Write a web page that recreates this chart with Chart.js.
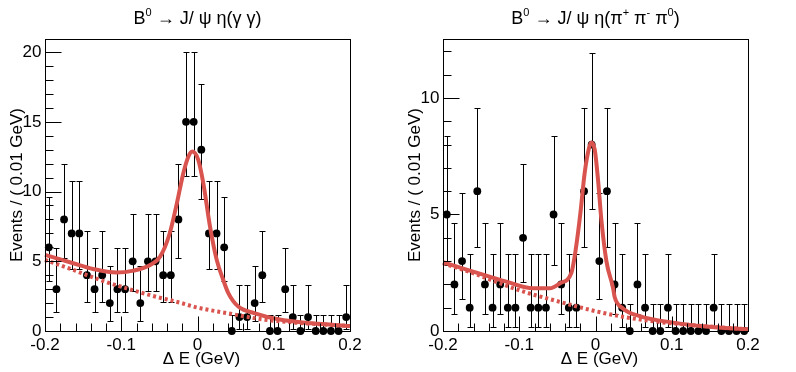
<!DOCTYPE html>
<html><head><meta charset="utf-8">
<script src="https://cdn.jsdelivr.net/npm/chart.js@4.4.1/dist/chart.umd.min.js"></script>
<style>
html,body{margin:0;padding:0;background:#fff;}
#wrap{position:relative;width:796px;height:372px;background:#fff;}
.pane{position:absolute;top:0;width:398px;height:372px;}
canvas{display:block;}
</style></head>
<body><div id="wrap">
<div class="pane" style="left:0"><canvas id="c1" width="398" height="372"></canvas></div>
<div class="pane" style="left:398px"><canvas id="c2" width="398" height="372"></canvas></div>
</div>
<script>
// ---- data ----
const binCenters = [-0.195,-0.185,-0.175,-0.165,-0.155,-0.145,-0.135,-0.125,-0.115,-0.105,
  -0.095,-0.085,-0.075,-0.065,-0.055,-0.045,-0.035,-0.025,-0.015,-0.005,
  0.005,0.015,0.025,0.035,0.045,0.055,0.065,0.075,0.085,0.095,
  0.105,0.115,0.125,0.135,0.145,0.155,0.165,0.175,0.185,0.195];

const titleGG = 'B⁰ → J/ ψ η(γ γ)';
const titlePPP = 'B⁰ → J/ ψ η(π⁺ π⁻ π⁰)';
const xTitle = 'Δ E (GeV)';
const yTitle = 'Events / ( 0.01 GeV)';

const xTicks = [-0.2,-0.1,0,0.1,0.2];
const xTickLabels = ['-0.2','-0.1','0','0.1','0.2'];
const yTicksGG = [0,5,10,15,20];
const yTickLabelsGG = ['0','5','10','15','20'];
const yTicksPPP = [0,5,10];
const yTickLabelsPPP = ['0','5','10'];

// eta -> gamma gamma
const countsGG = [6,3,8,7,7,4,3,4,2,3,3,5,2,5,5,4,4,8,15,15,13,7,7,6,0,1,1,2,4,0,0,3,1,0,1,0,0,0,0,1];
const lowGG  = [3.62,1.37,5.23,4.42,4.42,2.09,1.37,2.09,0.71,1.37,1.37,2.84,0.71,2.84,2.84,2.09,2.09,5.23,11.15,11.15,
  9.44,4.42,4.42,3.62,0,0.17,0.17,0.71,2.09,0,0,1.37,0.17,0,0.17,0,0,0,0,0.17];
const highGG = [9.58,5.92,11.95,10.77,10.77,7.16,5.92,7.16,4.64,5.92,5.92,8.38,4.64,8.38,8.38,7.16,7.16,11.95,19.99,19.99,
  17.70,10.77,10.77,9.58,1.15,3.30,3.30,4.64,7.16,1.15,1.15,5.92,3.30,1.15,3.30,1.15,1.15,1.15,1.15,3.30];
const totalGGx = [-0.2,-0.163,-0.137,-0.106,-0.084,-0.062,-0.049,-0.037,-0.027,-0.0186,-0.012,-0.0068,0.001,0.0076,0.0164,0.0252,0.0338,0.0404,0.0535,0.0754,0.106,0.15,0.2];
const totalGGy = [5.46,4.86,4.45,4.19,4.33,4.74,5.33,6.9,9.17,11.32,12.5,12.87,12.27,10.6,7.49,5.1,3.66,2.72,1.75,1.27,0.84,0.55,0.36];
const bkgGGx = [-0.2,-0.163,-0.128,-0.093,-0.058,-0.023,0.0,0.04,0.084,0.128,0.2];
const bkgGGy = [5.1,4.38,3.66,3.06,2.51,2.03,1.68,1.27,0.84,0.6,0.36];

// eta -> pi+ pi- pi0
const countsPPP = [5,2,3,1,6,2,1,2,1,1,4,1,1,1,5,2,1,1,6,8,3,6,2,1,0,2,1,0,0,1,0,0,0,0,0,1,0,0,0,0];
const lowPPP  = [2.84,0.71,1.37,0.17,3.62,0.71,0.17,0.71,0.17,0.17,2.09,0.17,0.17,0.17,2.84,0.71,0.17,0.17,3.62,5.23,
  1.37,3.62,0.71,0.17,0,0.71,0.17,0,0,0.17,0,0,0,0,0,0.17,0,0,0,0];
const highPPP = [8.38,4.64,5.92,3.30,9.58,4.64,3.30,4.64,3.30,3.30,7.16,3.30,3.30,3.30,8.38,4.64,3.30,3.30,9.58,11.95,
  5.92,9.58,4.64,3.30,1.15,4.64,3.30,1.15,1.15,3.30,1.15,1.15,1.15,1.15,1.15,3.30,1.15,1.15,1.15,1.15];
const totalPPPx = [-0.2,-0.1606,-0.1169,-0.082,-0.060,-0.046,-0.0316,-0.026,-0.0198,-0.0142,-0.0085,-0.0054,-0.001,0.0033,0.0077,0.0143,0.023,0.0252,0.036,0.058,0.1016,0.1454,0.2];
const totalPPPy = [2.95,2.55,2.12,1.83,1.83,2.06,2.5,3.48,5.06,6.78,7.85,8.09,7.78,6.49,4.77,3.0,1.85,1.45,0.97,0.64,0.36,0.19,0.07];
const bkgPPPx = [-0.2,-0.1606,-0.1256,-0.0906,-0.0557,-0.0207,0.0,0.036,0.0799,0.1236,0.2];
const bkgPPPy = [2.91,2.48,2.05,1.65,1.33,1.02,0.85,0.61,0.4,0.26,0.07];

// ---- drawing ----
const RED = 'rgb(217,84,78)';
const FONT = '"Liberation Sans", Arial, Helvetica, sans-serif';

function drawRich(ctx, str, cx, baseY, size){
  const supMap = {'⁰':'0','⁺':'+','⁻':'-'};
  const segs = [];
  for (const ch of str){
    const sup = ch in supMap; const t = sup ? supMap[ch] : ch;
    if (segs.length && segs[segs.length-1].sup === sup) segs[segs.length-1].t += t;
    else segs.push({t, sup});
  }
  const fN = size + 'px ' + FONT, fS = Math.round(size*0.62) + 'px ' + FONT;
  let w = 0;
  segs.forEach(s => { ctx.font = s.sup ? fS : fN; s.w = ctx.measureText(s.t).width; w += s.w; });
  let xx = cx - w/2;
  ctx.textAlign = 'left'; ctx.textBaseline = 'alphabetic';
  segs.forEach(s => { ctx.font = s.sup ? fS : fN; ctx.fillText(s.t, xx, s.sup ? baseY - size*0.45 : baseY); xx += s.w; });
}

function makePlugin(p){
  return {
    id: 'rootFrame',
    beforeDatasetsDraw(chart){
      const ctx = chart.ctx, x = chart.scales.x, y = chart.scales.y;
      ctx.save(); ctx.strokeStyle = '#000'; ctx.lineWidth = 1;
      binCenters.forEach((c, i) => {
        const px = Math.round(x.getPixelForValue(c)) + 0.5;
        const y1 = Math.round(y.getPixelForValue(p.lo[i])) + 0.5;
        const y2 = Math.round(y.getPixelForValue(p.hi[i])) + 0.5;
        ctx.beginPath();
        ctx.moveTo(px, y1); ctx.lineTo(px, y2);
        ctx.moveTo(px-3, y1); ctx.lineTo(px+3, y1);
        ctx.moveTo(px-3, y2); ctx.lineTo(px+3, y2);
        ctx.stroke();
      });
      ctx.restore();
    },
    afterDraw(chart){
      const ctx = chart.ctx, x = chart.scales.x, y = chart.scales.y, a = chart.chartArea;
      ctx.save();
      ctx.strokeStyle = '#000'; ctx.lineWidth = 1; ctx.fillStyle = '#000';
      const L = Math.round(a.left)+0.5, R = Math.round(a.right)+0.5, T = Math.round(a.top)+0.5, B = Math.round(a.bottom)+0.5;
      ctx.strokeRect(L, T, R-L, B-T);
      ctx.beginPath();
      // x ticks
      for (let k = 0; k <= 20; k++){
        const v = -0.2 + k*0.02;
        const px = Math.round(x.getPixelForValue(v)) + 0.5;
        const len = (k % 5 === 0) ? 15 : 8;
        ctx.moveTo(px, B); ctx.lineTo(px, B - len);
      }
      // y ticks
      for (let v = 0; v <= p.ymax; v += 1){
        const py = Math.round(y.getPixelForValue(v)) + 0.5;
        const len = (v % 5 === 0) ? 16 : 8;
        ctx.moveTo(L, py); ctx.lineTo(L + len, py);
      }
      ctx.stroke();
      // labels
      ctx.font = '17px ' + FONT;
      ctx.textAlign = 'center'; ctx.textBaseline = 'alphabetic';
      xTicks.forEach((v, i) => ctx.fillText(xTickLabels[i], x.getPixelForValue(v), 350));
      ctx.textAlign = 'right'; ctx.textBaseline = 'middle';
      p.yTicks.forEach((v, i) => ctx.fillText(p.yLabels[i], L - 4, y.getPixelForValue(v)));
      // axis titles
      ctx.textAlign = 'center'; ctx.textBaseline = 'alphabetic';
      ctx.fillText(xTitle, (a.left + a.right)/2 + 4, 364);
      ctx.save();
      ctx.translate(22, (a.top + a.bottom)/2);
      ctx.rotate(-Math.PI/2);
      ctx.fillText(yTitle, 0, 0);
      ctx.restore();
      // title
      drawRich(ctx, p.title, (a.left + a.right)/2, 24, 18);
      ctx.restore();
    }
  };
}

function build(id, p){
  const pts = binCenters.map((c, i) => ({x: c, y: p.counts[i]}));
  const tot = p.tx.map((v, i) => ({x: v, y: p.ty[i]}));
  const bkg = p.bx.map((v, i) => ({x: v, y: p.by[i]}));
  new Chart(document.getElementById(id), {
    type: 'scatter',
    data: { datasets: [
      { data: tot, showLine: true, borderColor: RED, borderWidth: 4, pointRadius: 0, cubicInterpolationMode: 'monotone', order: 0, clip: false },
      { data: bkg, showLine: true, borderColor: RED, borderWidth: 4, borderDash: [3,3], pointRadius: 0, cubicInterpolationMode: 'monotone', order: 1, clip: false },
      { data: pts, showLine: false, pointRadius: 3.9, pointBackgroundColor: '#000', pointBorderColor: '#000', pointBorderWidth: 0, order: 2, clip: false }
    ]},
    options: {
      responsive: false, animation: false, devicePixelRatio: 1,
      layout: { padding: { left: 45, right: 48, top: 39, bottom: 41 } },
      plugins: { legend: { display: false }, tooltip: { enabled: false } },
      events: [],
      scales: {
        x: { type: 'linear', min: -0.2, max: 0.2, display: false },
        y: { type: 'linear', min: 0, max: p.ymax, display: false }
      }
    },
    plugins: [makePlugin(p)]
  });
}

build('c1', { counts: countsGG, lo: lowGG, hi: highGG, tx: totalGGx, ty: totalGGy, bx: bkgGGx, by: bkgGGy,
  ymax: 20.94, yTicks: yTicksGG, yLabels: yTickLabelsGG, title: titleGG });
build('c2', { counts: countsPPP, lo: lowPPP, hi: highPPP, tx: totalPPPx, ty: totalPPPy, bx: bkgPPPx, by: bkgPPPy,
  ymax: 12.53, yTicks: yTicksPPP, yLabels: yTickLabelsPPP, title: titlePPP });
</script>
</body></html>
